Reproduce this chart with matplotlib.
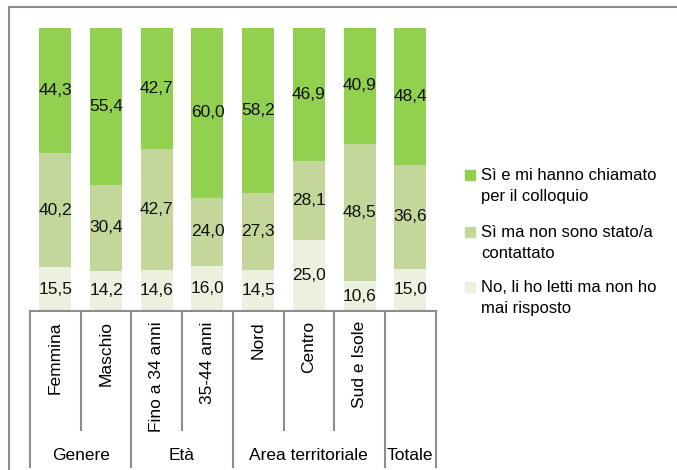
import matplotlib
matplotlib.use('Agg')
import matplotlib.pyplot as plt
from matplotlib.patches import Rectangle
from matplotlib.lines import Line2D

plt.rcParams['font.family'] = ['Liberation Sans', 'DejaVu Sans']

# data
categories = ['Femmina', 'Maschio', 'Fino a 34 anni', '35-44 anni',
              'Nord', 'Centro', 'Sud e Isole', '']
groups = [('Genere', 0, 1), ('Età', 2, 3), ('Area territoriale', 4, 6), ('Totale', 7, 7)]
no_risposta = [15.5, 14.2, 14.6, 16.0, 14.5, 25.0, 10.6, 15.0]
si_non_contattato = [40.2, 30.4, 42.7, 24.0, 27.3, 28.1, 48.5, 36.6]
si_colloquio = [44.3, 55.4, 42.7, 60.0, 58.2, 46.9, 40.9, 48.4]
series_labels = ['Sì e mi hanno chiamato\nper il colloquio',
                 'Sì ma non sono stato/a\ncontattato',
                 'No, li ho letti ma non ho\nmai risposto']
colors = ['#92D050', '#C4D79B', '#EBF1DE']

FS = 12.5
W, H = 677, 470
fig = plt.figure(figsize=(W / 100, H / 100), dpi=100)
ax = fig.add_axes([30 / W, (H - 311) / H, 405.6 / W, 283 / H])

x = list(range(len(categories)))
bw = 0.63
stack = [no_risposta, si_non_contattato, si_colloquio]
cols = [colors[2], colors[1], colors[0]]
bottom = [0] * len(x)
for vals, c in zip(stack, cols):
    ax.bar(x, vals, bw, bottom=bottom, color=c, edgecolor='none')
    for xi, b, v in zip(x, bottom, vals):
        ax.text(xi, b + v / 2, f'{v:.1f}'.replace('.', ','), ha='center', va='center',
                fontsize=FS, color='#111111')
    bottom = [b + v for b, v in zip(bottom, vals)]

ax.set_xlim(-0.5, len(x) - 0.5)
ax.set_ylim(0, 100)
for s in ['top', 'left', 'right']:
    ax.spines[s].set_visible(False)
ax.spines['bottom'].set_color('#8c8c8c')
ax.spines['bottom'].set_linewidth(1.5)
ax.set_xticks([])
ax.set_yticks([])

# category / group separators below the axis
tr = ax.get_xaxis_transform()
group_edges = {-0.5}
for name, a, b in groups:
    group_edges.add(b + 0.5)
for i in range(len(x) + 1):
    e = i - 0.5
    y_end = -0.551 if e in group_edges else -0.42
    ax.add_line(Line2D([e, e], [0, y_end], transform=tr, color='#8c8c8c',
                       lw=1.5, clip_on=False))

for xi, lab in zip(x, categories):
    ax.text(xi, -0.036, lab, transform=tr, rotation=90, ha='center', va='top',
            fontsize=FS)
for name, a, b in groups:
    ax.text((a + b) / 2, -0.509, name, transform=tr, ha='center', va='center',
            fontsize=FS)

# legend
leg_y = [175, 232, 287]
for lab, c, yy in zip(series_labels, colors, leg_y):
    fig.patches.append(Rectangle((465 / W, (H - yy - 5) / H), 10 / W, 10 / H,
                                 transform=fig.transFigure, color=c))
    fig.text(481 / W, (H - yy - 11) / H, lab, ha='left', va='center',
             fontsize=12, linespacing=1.5)

# outer frame
fig.add_artist(Line2D([9 / W, 9 / W], [0, (H - 7) / H], transform=fig.transFigure,
                      color='#8c8c8c', lw=1.5))
fig.add_artist(Line2D([9 / W, 1], [(H - 7) / H, (H - 7) / H], transform=fig.transFigure,
                      color='#8c8c8c', lw=1.5))

fig.savefig('out.png', dpi=100)
